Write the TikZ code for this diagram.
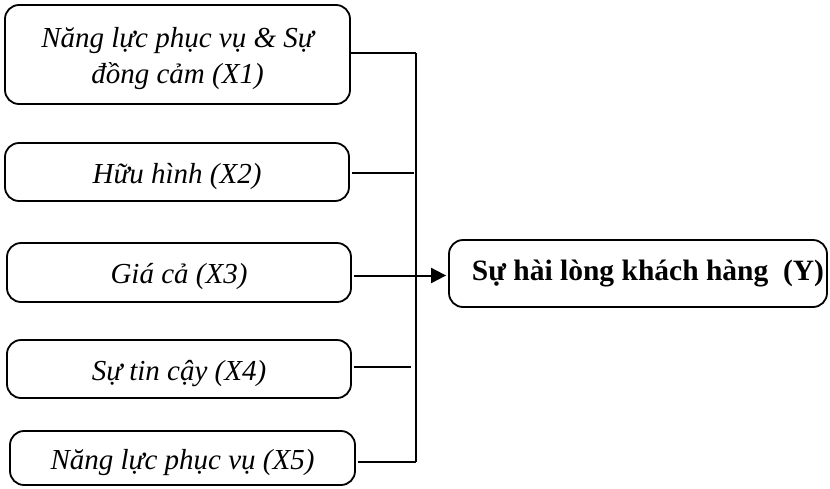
\documentclass[tikz,border=0pt]{standalone}
\usepackage{fontspec}
\setmainfont{Liberation Serif}
\usetikzlibrary{arrows.meta}
\begin{document}
\begin{tikzpicture}[x=1pt,y=-1pt,
  factor/.style={draw, line width=1.8pt, rounded corners=14pt, inner sep=0pt,
    font=\fontsize{29}{36}\selectfont\itshape, align=center,
    text height=28pt, text depth=6pt},
  link/.style={line width=2pt},
  target/.style={draw, line width=1.8pt, rounded corners=14pt, inner sep=0pt,
    font=\fontsize{29.5}{35}\selectfont\bfseries, align=center,
    text height=22pt, text depth=9pt}]
\useasboundingbox (0,0) rectangle (830,488);
% factor boxes, positioned by their corners
\node[factor, minimum width=345pt, minimum height=99pt, text height=63pt, text depth=6pt] (x1) at (177.5,54.5) {Năng lực phục vụ \& Sự\\đồng cảm (X1)};
\node[factor, minimum width=344pt, minimum height=58pt] (x2) at (177,172) {Hữu hình (X2)};
\node[factor, minimum width=344pt, minimum height=59pt] (x3) at (179,272.5) {Giá cả (X3)};
\node[factor, minimum width=344pt, minimum height=58pt] (x4) at (179,369) {Sự tin cậy (X4)};
\node[factor, minimum width=345pt, minimum height=54pt] (x5) at (182.5,458) {Năng lực phục vụ (X5)};
% outcome box
\node[target, minimum width=378pt, minimum height=67pt] (y) at (638,273.5) {\hspace*{20pt}Sự hài lòng khách hàng~~(Y)};
% collecting bar
\coordinate (top) at (416,53);
\coordinate (bot) at (416,462);
\coordinate (j2) at (414,173);
\coordinate (j4) at (411,367);
\draw[link] (top) -- (bot);
\draw[link] (x1.east |- top) -- (top);
\draw[link] ([xshift=2pt]x2.east |- j2) -- (j2);
\draw[link] ([xshift=2pt]x4.east |- j4) -- (j4);
\draw[link] ([xshift=2pt]x5.east |- bot) -- (bot);
\draw[link, -{Triangle[length=15pt,width=15pt]}] ([xshift=2pt]x3.east |- 0,275.5) -- ([xshift=-2pt]y.west |- 0,275.5);
\end{tikzpicture}
\end{document}
